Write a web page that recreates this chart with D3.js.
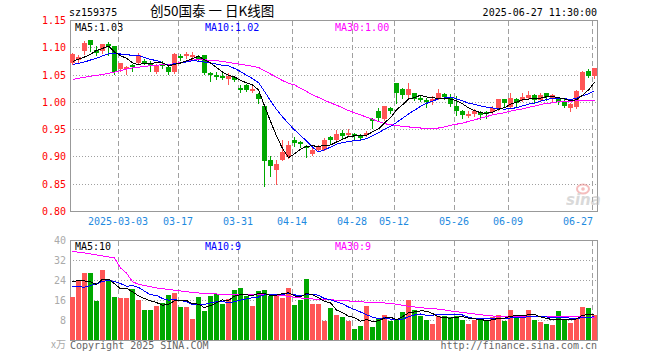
<!DOCTYPE html>
<html><head><meta charset="utf-8">
<script src="https://cdn.jsdelivr.net/npm/d3@7"></script>
<style>body{margin:0;background:#fff}svg{display:block}</style>
</head><body>
<script>
// ---- data ----
const openP = [1.0727,1.077,1.0941,1.1138,1.096,1.0941,1.107,1.1033,1.0604,1.0604,
1.0678,1.0727,1.0764,1.0727,1.0555,1.0702,1.0653,1.0555,1.0849,1.0862,
1.0837,1.0837,1.0862,1.0543,1.0494,1.0482,1.042,1.0463,1.0255,1.031,
1.0224,1.0144,0.9942,0.8949,0.8753,0.8949,0.8998,0.9317,0.9268,0.9194,
0.9059,0.9133,0.9133,0.9366,0.9305,0.9439,0.9421,0.9415,0.939,0.9403,
0.9697,0.9838,0.9697,0.9899,1.0347,1.0249,1.0126,1.0163,1.0077,1.004,
1.0022,1.0065,1.0157,1.0102,0.9942,0.985,0.9777,0.9789,0.9807,0.982,
0.982,0.9893,1.0053,0.9918,1.0065,1.004,1.0077,1.0126,1.004,1.0163,
1.0053,1.0065,1.0022,0.9899,0.9918,1.0224,1.0574,1.0482];
const highP = [1.091,1.087,1.1125,1.114,1.1033,1.1076,1.1107,1.104,1.0727,1.0666,
1.0696,1.0898,1.08,1.0757,1.0696,1.0757,1.0678,1.0898,1.0892,1.0923,
1.0923,1.0862,1.0865,1.0561,1.0555,1.0543,1.0543,1.0469,1.031,1.0328,
1.0298,1.0175,0.9954,0.9023,0.8949,0.9317,0.9298,0.9366,0.9298,0.9225,
0.9164,0.9225,0.9348,0.9391,0.9501,0.9501,0.9513,0.9439,0.9427,0.947,
0.9715,0.9899,0.9942,0.9918,1.0359,1.0267,1.0359,1.0175,1.0114,1.0083,
1.0114,1.0236,1.0175,1.0144,1.0114,0.9869,0.9838,0.9881,0.9838,0.9838,
0.993,1.0065,1.0065,1.0175,1.0083,1.0175,1.02,1.0144,1.0175,1.0175,
1.0144,1.0083,1.0053,0.9991,1.0224,1.0574,1.0616,1.0635];
const lowP = [1.0696,1.073,1.088,1.0941,1.0862,1.091,1.0862,1.0512,1.0574,1.0512,
1.0574,1.0715,1.0696,1.0574,1.0543,1.0635,1.0512,1.0543,1.077,1.0819,
1.08,1.0776,1.0512,1.039,1.0433,1.0433,1.034,1.039,1.0187,1.02,
1.0187,0.9991,0.8459,0.8655,0.8508,0.8937,0.8986,0.9207,0.9182,0.8998,
0.9041,0.9121,0.9121,0.9256,0.929,0.9348,0.939,0.9317,0.9317,0.9378,
0.9531,0.9685,0.9685,0.9807,0.9991,1.0083,1.0083,1.004,1.0022,0.9918,
0.9961,1.0053,1.0065,0.9942,0.9777,0.9715,0.9734,0.9746,0.9697,0.9715,
0.9807,0.9869,0.993,0.9899,0.993,1.0022,1.0053,1.0003,1.0022,1.004,
1.0022,0.9979,0.9918,0.9838,0.9899,1.0206,1.0469,1.0451];
const closeP = [1.088,1.083,1.1095,1.1052,1.09,1.1064,1.1046,1.0555,1.0715,1.0653,
1.0653,1.0868,1.0715,1.0702,1.0678,1.0678,1.0555,1.088,1.0813,1.0886,
1.0868,1.0788,1.0543,1.0525,1.0469,1.0445,1.0482,1.0402,1.0236,1.0218,
1.0249,1.0053,0.8918,0.8826,0.8876,0.9096,0.9225,0.9256,0.9243,0.9158,
0.9133,0.9182,0.9317,0.9305,0.9427,0.9378,0.9439,0.9378,0.9366,0.9439,
0.9672,0.9715,0.993,0.9838,1.0163,1.0126,1.0249,1.0065,1.0053,1.0003,
1.0065,1.0163,1.0095,0.9979,0.985,0.9777,0.9795,0.985,0.9777,0.9795,
0.9893,1.0053,0.9991,1.0089,0.9991,1.0102,1.0126,1.004,1.0138,1.0102,
1.0138,1.0003,0.993,0.9961,1.0206,1.0555,1.0482,1.0623];
const volume = [17.6,24.3,26.9,27.2,16.0,28.4,24.4,17.6,17.2,17.2,
20.8,16.4,12.4,12.4,14.0,15.2,18.4,19.2,13.6,13.6,
8.8,17.6,12.0,18.0,18.7,14.8,16.8,20.4,21.2,18.0,
14.0,20.0,20.4,18.0,18.4,17.2,21.2,14.4,16.4,24.8,
14.8,14.8,7.7,13.2,10.4,9.6,7.7,4.8,6.0,14.0,
5.6,8.8,10.4,8.0,8.8,11.6,16.4,12.4,10.0,8.4,
6.8,10.0,10.0,9.6,10.0,8.4,6.8,8.4,8.4,8.0,
9.6,10.4,8.0,12.4,9.6,9.2,12.4,8.4,7.6,6.8,
6.4,12.0,8.8,7.2,8.8,13.6,13.2,10.4];
// moving averages whose window starts before the first visible day
const ma5Lead = [1.075,1.079,1.083,1.088];
const ma10Lead = [1.0696,1.0715,1.074,1.0776,1.0807,1.085,1.089,1.090,1.0886];
const ma30 = [1.042,1.044,1.046,1.048,1.0495,1.051,1.053,1.0555,1.058,1.061,
1.063,1.0645,1.066,1.067,1.068,1.069,1.0695,1.071,1.073,1.0755,
1.0775,1.078,1.078,1.077,1.0765,1.075,1.073,1.0715,1.070,1.068,
1.066,1.064,1.058,1.052,1.046,1.040,1.035,1.032,1.026,1.020,
1.014,1.009,1.004,0.999,0.995,0.990,0.985,0.981,0.977,0.973,
0.969,0.965,0.961,0.959,0.9575,0.956,0.955,0.954,0.953,0.953,
0.953,0.953,0.955,0.958,0.960,0.962,0.965,0.968,0.971,0.974,
0.977,0.979,0.981,0.984,0.986,0.988,0.991,0.993,0.996,0.998,
0.999,1.001,1.001,1.002,1.003,1.003,1.004,1.004];
const volMa5Lead = [23.5,24.0,23.8,23.5];
const volMa10Lead = [21.7,21.5,21.3,22.0,22.7,23.6,24.0,23.6,22.8];
const volMa30 = [35.6,35.3,35.0,34.6,34.2,33.8,33.4,33.0,29.0,27.0,
23.5,22.5,22.0,21.5,21.0,20.7,20.4,20.1,19.8,19.5,
19.2,19.0,18.8,18.7,18.6,18.5,18.4,18.4,18.3,18.3,
18.3,18.3,18.3,18.3,18.2,18.0,17.6,17.3,17.0,16.8,
16.6,16.5,16.4,16.3,16.1,16.0,15.8,15.6,15.5,15.3,
15.2,15.1,15.0,14.8,14.5,14.1,13.7,13.4,13.1,12.9,
12.8,12.5,12.2,11.8,11.5,11.2,10.9,10.6,10.3,10.0,
9.8,9.7,9.6,9.6,9.6,9.6,9.6,9.6,9.6,9.6,
9.6,9.6,9.5,9.5,9.5,9.4,9.4,9.4];
const dateTickIdx = [8,18,28,37,47,54,64,73,87];
const dateTickLabel = ["2025-03-03","03-17","03-31","04-14","04-28","05-12","05-26","06-09","06-27"];
const priceTicks = [1.15,1.10,1.05,1.00,0.95,0.90,0.85,0.80];
const volTicks = [40,32,24,16,8];
const priceMaText = ["MA5:1.03","MA10:1.02","MA30:1.00"];
const volMaText = ["MA5:10","MA10:9","MA30:9"];

// ---- drawing ----
const W=660,H=360, L=70, R=597;
const RED="#ff5555", GREEN="#00a800", GRID="#a0a0a0";
const svg=d3.select("body").append("svg").attr("width",W).attr("height",H)
  .style("font-family","'DejaVu Sans Mono','Liberation Mono',monospace").style("font-size","10px");
const n=closeP.length;
const idx=d3.range(n);
const x=d3.scaleBand().domain(idx).range([L,R]).paddingInner(1/6).paddingOuter(0).align(0);
const y=d3.scaleLinear().domain([0.80,1.15]).range([211.5,20.5]);
const yv=d3.scaleLinear().domain([0,40]).range([340.5,240.5]);
const bw=x.bandwidth();
const up=k=>closeP[k]>=openP[k];

function movAvg(arr,w,lead){return idx.map(k=>k<w-1?lead[k]:d3.mean(arr.slice(k-w+1,k+1)));}
const ma5=movAvg(closeP,5,ma5Lead), ma10=movAvg(closeP,10,ma10Lead);
const vma5=movAvg(volume,5,volMa5Lead), vma10=movAvg(volume,10,volMa10Lead);

// titles
svg.append("text").attr("x",69).attr("y",16).text("sz159375");
svg.append("text").attr("x",150).attr("y",16).style("font-family","'Noto Sans CJK SC',sans-serif").style("font-size","13.5px").text("创50国泰 一 日K线图");
svg.append("text").attr("x",R).attr("y",16).attr("text-anchor","end").text("2025-06-27 11:30:00");

function panel(top,bottom,scale,ticks,tickFmt,tickColor){
  const g=svg.append("g").attr("shape-rendering","crispEdges");
  // horizontal dotted grid
  g.selectAll(null).data(ticks.filter(t=>Math.abs(scale(t)-top)>2 && Math.abs(scale(t)-bottom)>2)).join("line")
   .attr("x1",L).attr("x2",R).attr("y1",d=>scale(d)).attr("y2",d=>scale(d))
   .attr("stroke",GRID).attr("stroke-dasharray","1,2");
  // vertical dashed grid
  g.selectAll(null).data(dateTickIdx).join("line")
   .attr("x1",d=>x(d)+0.5).attr("x2",d=>x(d)+0.5).attr("y1",top).attr("y2",bottom)
   .attr("stroke",GRID).attr("stroke-dasharray","5,3");
  // frame
  g.append("rect").attr("x",L+0.5).attr("y",top).attr("width",R-L).attr("height",bottom-top)
   .attr("fill","none").attr("stroke","#999");
  // tick labels
  svg.append("g").selectAll(null).data(ticks).join("text")
   .attr("x",66).attr("y",d=>scale(d)+3.5).attr("text-anchor","end").attr("fill",tickColor).text(tickFmt);
}
panel(20.5,211.5,y,priceTicks,d=>d.toFixed(2),"#ff0000");
panel(240.5,340.5,yv,volTicks,d=>d,"#aaaaaa");

// date labels
svg.append("g").selectAll(null).data(dateTickIdx).join("text")
 .attr("x",(d,i)=>i===dateTickIdx.length-1?x(d)+1:x(d))
 .attr("y",225).attr("text-anchor",(d,i)=>i===dateTickIdx.length-1?"end":"middle")
 .attr("fill","#1f8ae0").text((d,i)=>dateTickLabel[i]);

// candles
const cg=svg.append("g").attr("shape-rendering","crispEdges");
cg.selectAll(null).data(idx).join("line")
 .attr("x1",k=>x(k)+2.5).attr("x2",k=>x(k)+2.5)
 .attr("y1",k=>Math.round(y(highP[k]))).attr("y2",k=>Math.round(y(lowP[k]))+1)
 .attr("stroke",k=>up(k)?RED:GREEN);
cg.selectAll(null).data(idx).join("rect")
 .attr("x",k=>x(k)).attr("width",bw)
 .attr("y",k=>Math.round(y(Math.max(openP[k],closeP[k]))))
 .attr("height",k=>Math.max(2,Math.round(y(Math.min(openP[k],closeP[k])))-Math.round(y(Math.max(openP[k],closeP[k])))))
 .attr("fill",k=>up(k)?RED:GREEN);

// volume bars
svg.append("g").attr("shape-rendering","crispEdges").selectAll(null).data(idx).join("rect")
 .attr("x",k=>x(k)).attr("width",bw)
 .attr("y",k=>Math.round(yv(volume[k])))
 .attr("height",k=>340-Math.round(yv(volume[k])))
 .attr("fill",k=>up(k)?RED:GREEN);

// MA lines
function maLine(vals,scale,color){
  svg.append("path").datum(vals).attr("fill","none").attr("stroke",color).attr("stroke-width",1)
   .attr("shape-rendering","crispEdges")
   .attr("d",d3.line().x((d,i)=>x(i)+2.5).y(d=>scale(d)));
}
maLine(ma30,y,"#ff00ff"); maLine(ma10,y,"#0000ff"); maLine(ma5,y,"#000000");
maLine(volMa30,yv,"#ff00ff"); maLine(vma10,yv,"#0000ff"); maLine(vma5,yv,"#000000");

// MA legends
const maColors=["#000000","#0000ff","#ff00ff"], maX=[75,205,335];
priceMaText.forEach((t,i)=>svg.append("text").attr("x",maX[i]).attr("y",31).attr("fill",maColors[i]).text(t));
volMaText.forEach((t,i)=>svg.append("text").attr("x",maX[i]).attr("y",250).attr("fill",maColors[i]).text(t));

// unit and footer
svg.append("text").attr("x",66).attr("y",348).attr("text-anchor","end").attr("fill","#aaaaaa")
 .style("font-family","'Noto Sans CJK SC',sans-serif").style("font-size","10px").text("x万");
svg.append("text").attr("x",L).attr("y",349).attr("fill","#666").text("Copyright 2025 SINA.COM");
svg.append("text").attr("x",R).attr("y",349).attr("text-anchor","end").attr("fill","#666").text("http://finance.sina.com.cn");

// watermark
const wm=svg.append("g").attr("opacity",0.55);
wm.append("ellipse").attr("cx",583).attr("cy",189).attr("rx",6).attr("ry",4.5).attr("fill","none").attr("stroke","#e88").attr("stroke-width",2);
wm.append("circle").attr("cx",583).attr("cy",189).attr("r",1.8).attr("fill","#e88");
wm.append("text").attr("x",566).attr("y",205).style("font-family","'DejaVu Sans',sans-serif").style("font-size","15px")
 .style("font-style","italic").style("font-weight","bold").attr("fill","#bbb").text("sina");
</script>
</body></html>
